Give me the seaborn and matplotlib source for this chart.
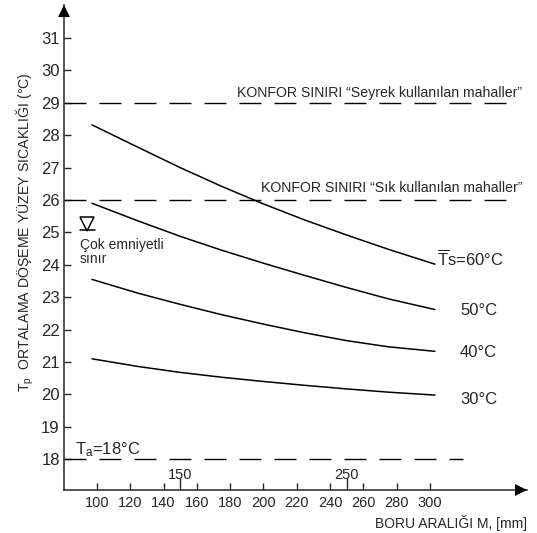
import matplotlib
matplotlib.use("Agg")
import matplotlib.pyplot as plt
from matplotlib import transforms
import pandas as pd
import seaborn as sns

# ---- data ----
spacing_mm = [97, 125, 150, 175, 200, 225, 250, 275, 303]
tp_60 = [28.32, 27.62, 27.00, 26.42, 25.88, 25.38, 24.92, 24.48, 24.02]
tp_50 = [25.90, 25.35, 24.88, 24.45, 24.05, 23.67, 23.30, 22.95, 22.62]
tp_40 = [23.55, 23.12, 22.78, 22.46, 22.17, 21.90, 21.66, 21.47, 21.33]
tp_30 = [21.10, 20.86, 20.68, 20.53, 20.40, 20.28, 20.17, 20.07, 19.98]
series_names = ["60", "50", "40", "30"]
curve_labels = [r"$\overline{\mathrm{T}}$s=60°C", "50°C", "40°C", "30°C"]

limit_values = [29, 26, 18]
limit_labels = ["KONFOR SINIRI “Seyrek kullanılan mahaller”",
                "KONFOR SINIRI “Sık kullanılan mahaller”",
                r"T$_\mathrm{a}$=18°C"]
y_ticks = list(range(18, 32))
x_major = list(range(100, 301, 20))
x_minor = [150, 250]
x_label = "BORU ARALIĞI M, [mm]"
y_label = r"T$_\mathrm{p}$  ORTALAMA DÖŞEME YÜZEY SICAKLIĞI (°C)"
note_label = "Çok emniyetli\nsınır"

# ---- style ----
sns.set_style("ticks")
plt.rcParams["font.family"] = ["Liberation Sans", "DejaVu Sans"]
plt.rcParams["mathtext.fontset"] = "custom"
plt.rcParams["mathtext.rm"] = "Liberation Sans"
plt.rcParams["mathtext.it"] = "Liberation Sans:italic"
plt.rcParams["mathtext.bf"] = "Liberation Sans:bold"

W, H = 537, 533
fig = plt.figure(figsize=(W / 100, H / 100), dpi=100)
ax = fig.add_axes([64 / W, 43 / H, 463 / W, 485 / H])
ax.set_xlim(80.2, 358.3)
ax.set_ylim(17.05, 32.02)

df = pd.DataFrame({
    "spacing": spacing_mm * 4,
    "tp": tp_60 + tp_50 + tp_40 + tp_30,
    "series": sum([[s] * len(spacing_mm) for s in series_names], []),
})
sns.lineplot(data=df, x="spacing", y="tp", hue="series",
             palette=["black"] * 4, legend=False, sort=False,
             estimator=None, lw=1.1, ax=ax)

# curve labels
label_pos = [(304.2, 24.18), (318, 22.60), (318, 21.30), (318, 19.85)]
for lab, (x, y) in zip(curve_labels, label_pos):
    ax.text(x, y, lab, fontsize=12, ha="left", va="center")

# dashed limit lines
dash = (0, (15.8, 9.4))
limit_ends = [346.2, 346.2, 319.8]
for v, xe in zip(limit_values, limit_ends):
    ax.plot([80.2, xe], [v, v], color="black", lw=1.0, ls=dash)
ax.text(355.3, 29.18, limit_labels[0], fontsize=10.2, ha="right", va="baseline")
ax.text(355.3, 26.25, limit_labels[1], fontsize=10.2, ha="right", va="baseline")
ax.text(86.8, 18.15, limit_labels[2], fontsize=12, ha="left", va="baseline")

# "very safe limit" symbol
ax.plot([94.3], [25.26], marker="v", ms=9.5, mfc="white", mec="black", mew=1.1)
ax.plot([89.8, 98.8], [25.07, 25.07], color="black", lw=1.1)
ax.text(89.8, 24.40, note_label, fontsize=10, ha="left", va="center",
        linespacing=0.95)

# axes
sns.despine(ax=ax)
for s in ("left", "bottom"):
    ax.spines[s].set_linewidth(1.1)
ax.set_yticks(y_ticks)
ax.set_yticklabels([str(t) for t in y_ticks])
ax.set_xticks(x_major)
ax.set_xticklabels([str(t) for t in x_major])
ax.set_xticks(x_minor, minor=True)
ax.set_xticklabels([str(t) for t in x_minor], minor=True)
ax.tick_params(axis="y", direction="in", length=5, width=1, labelsize=12, pad=3)
ax.tick_params(axis="x", which="major", direction="in", length=5, width=1,
               labelsize=10.5, pad=4)
ax.tick_params(axis="x", which="minor", direction="in", length=8.5, width=1,
               labelsize=10.5, pad=-16)
ax.set_xlabel("")
ax.set_ylabel("")

# arrow heads
offy = transforms.offset_copy(ax.transAxes, fig=fig, x=0, y=-6, units="dots")
ax.plot([0], [1], marker="^", ms=8.6, color="black", mew=0, clip_on=False,
        transform=offy, zorder=5)
offx = transforms.offset_copy(ax.transAxes, fig=fig, x=-6, y=0, units="dots")
ax.plot([1], [0], marker=">", ms=8.6, color="black", mew=0, clip_on=False,
        transform=offx, zorder=5)

fig.text(527 / W, 1 - 523 / H, x_label, fontsize=10, ha="right", va="center")
fig.text(25 / W, 1 - 232 / H, y_label, fontsize=10.2, rotation=90,
         ha="center", va="center")

fig.savefig("out.png", dpi=100)
